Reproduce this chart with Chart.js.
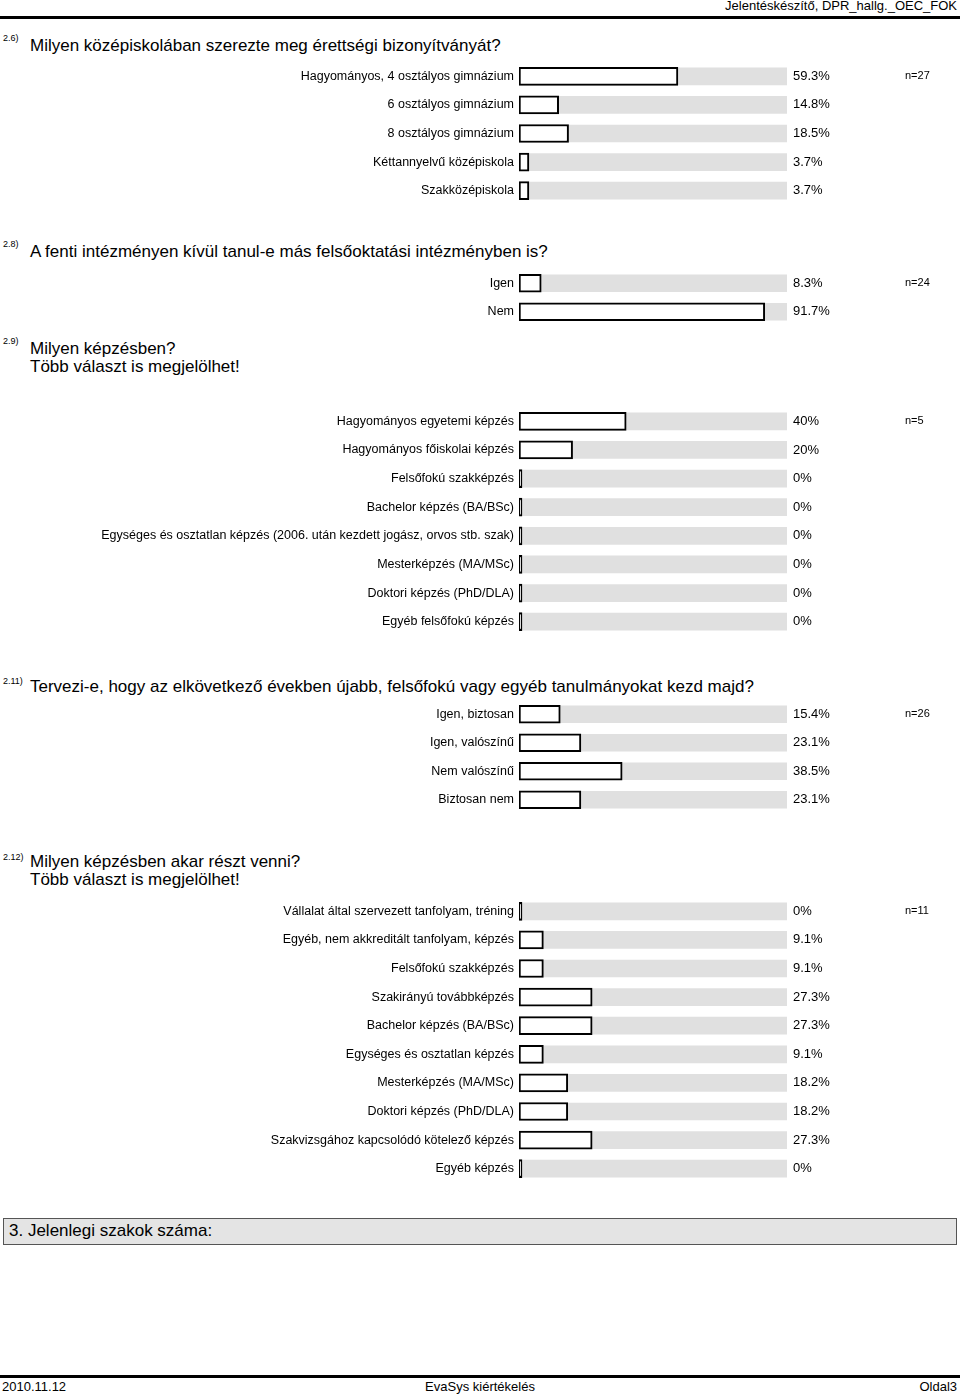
<!DOCTYPE html>
<html>
<head>
<meta charset="utf-8">
<script src="https://cdn.jsdelivr.net/npm/chart.js@4"></script>
<style>
body { margin: 0; width: 960px; height: 1395px; position: relative; background: #fff; font-family: "Liberation Sans", Arial, sans-serif; color: #000; }
.abs { position: absolute; white-space: nowrap; }
.num { font-size: 9px; left: 3px; }
.q { font-size: 17px; left: 30px; }
.hr { position: absolute; left: 0; width: 960px; background: #000; }
canvas { position: absolute; left: 0; }
</style>
</head>
<body>

<div class="abs" style="right:3px;top:-2px;font-size:13px">Jelentéskészítő, DPR_hallg._OEC_FOK</div>
<div class="hr" style="top:16px;height:3px"></div>

<div class="abs num" style="top:33px">2.6)</div>
<div class="abs q" style="top:36px">Milyen középiskolában szerezte meg érettségi bizonyítványát?</div>
<canvas id="q26" width="960" height="143" style="top:62px"></canvas>

<div class="abs num" style="top:239px">2.8)</div>
<div class="abs q" style="top:242px">A fenti intézményen kívül tanul-e más felsőoktatási intézményben is?</div>
<canvas id="q28" width="960" height="57" style="top:269px"></canvas>

<div class="abs num" style="top:336px">2.9)</div>
<div class="abs q" style="top:339px">Milyen képzésben?</div>
<div class="abs q" style="top:357px">Több választ is megjelölhet!</div>
<canvas id="q29" width="960" height="229" style="top:407px"></canvas>

<div class="abs num" style="top:676px">2.11)</div>
<div class="abs q" style="top:677px">Tervezi-e, hogy az elkövetkező években újabb, felsőfokú vagy egyéb tanulmányokat kezd majd?</div>
<canvas id="q211" width="960" height="114" style="top:700px"></canvas>

<div class="abs num" style="top:852px">2.12)</div>
<div class="abs q" style="top:852px">Milyen képzésben akar részt venni?</div>
<div class="abs q" style="top:870px">Több választ is megjelölhet!</div>
<canvas id="q212" width="960" height="286" style="top:897px"></canvas>

<div class="abs" style="left:3px;top:1218px;width:952px;height:25px;background:#e4e4e4;border:1px solid #555"></div>
<div class="abs" style="left:9px;top:1221px;font-size:17px">3. Jelenlegi szakok száma:</div>

<div class="hr" style="top:1375px;height:3px"></div>
<div class="abs" style="left:2px;top:1379px;font-size:13px">2010.11.12</div>
<div class="abs" style="left:0;width:960px;text-align:center;top:1379px;font-size:13px">EvaSys kiértékelés</div>
<div class="abs" style="right:3px;top:1379px;font-size:13px">Oldal3</div>

<script>
// 2.6
const q26Labels = ['Hagyományos, 4 osztályos gimnázium', '6 osztályos gimnázium', '8 osztályos gimnázium', 'Kéttannyelvű középiskola', 'Szakközépiskola'];
const q26Values = [59.3, 14.8, 18.5, 3.7, 3.7];
const q26N = 27;

// 2.8
const q28Labels = ['Igen', 'Nem'];
const q28Values = [8.3, 91.7];
const q28N = 24;

// 2.9
const q29Labels = ['Hagyományos egyetemi képzés', 'Hagyományos főiskolai képzés', 'Felsőfokú szakképzés', 'Bachelor képzés (BA/BSc)',
    'Egységes és osztatlan képzés (2006. után kezdett jogász, orvos stb. szak)', 'Mesterképzés (MA/MSc)', 'Doktori képzés (PhD/DLA)', 'Egyéb felsőfokú képzés'];
const q29Values = [40, 20, 0, 0, 0, 0, 0, 0];
const q29N = 5;

// 2.11
const q211Labels = ['Igen, biztosan', 'Igen, valószínű', 'Nem valószínű', 'Biztosan nem'];
const q211Values = [15.4, 23.1, 38.5, 23.1];
const q211N = 26;

// 2.12
const q212Labels = ['Vállalat által szervezett tanfolyam, tréning', 'Egyéb, nem akkreditált tanfolyam, képzés', 'Felsőfokú szakképzés',
    'Szakirányú továbbképzés', 'Bachelor képzés (BA/BSc)', 'Egységes és osztatlan képzés', 'Mesterképzés (MA/MSc)',
    'Doktori képzés (PhD/DLA)', 'Szakvizsgához kapcsolódó kötelező képzés', 'Egyéb képzés'];
const q212Values = [0, 9.1, 9.1, 27.3, 27.3, 9.1, 18.2, 18.2, 27.3, 0];
const q212N = 11;

const FONT = '"Liberation Sans", Arial, sans-serif';

// percent text after the track, n= on the first row
const valueText = {
    id: 'valueText',
    afterDatasetsDraw(chart, args, opts) {
        const ctx = chart.ctx;
        const meta = chart.getDatasetMeta(1);
        const values = chart.data.datasets[1].data;
        ctx.save();
        ctx.fillStyle = '#000';
        ctx.textBaseline = 'middle';
        ctx.textAlign = 'left';
        meta.data.forEach((bar, i) => {
            ctx.font = '13px ' + FONT;
            ctx.fillText(values[i] + '%', chart.chartArea.right + 6, bar.y);
            if (i === 0) {
                ctx.font = '11px ' + FONT;
                ctx.fillText('n=' + opts.n, 905, bar.y);
            }
        });
        ctx.restore();
    }
};

function makeChart(id, labels, values, n) {
    new Chart(document.getElementById(id), {
        type: 'bar',
        data: {
            labels: labels,
            datasets: [{
                data: labels.map(() => 100),
                backgroundColor: '#e0e0e0',
                borderWidth: 0,
                barThickness: 17,
                grouped: false,
                order: 2
            }, {
                data: values,
                backgroundColor: '#fff',
                borderColor: '#000',
                borderWidth: 2,
                borderSkipped: false,
                barThickness: 18,
                minBarLength: 3,
                grouped: false,
                order: 1
            }]
        },
        options: {
            indexAxis: 'y',
            responsive: false,
            animation: false,
            layout: { padding: { left: 0, right: 173, top: 0, bottom: 0 } },
            plugins: {
                legend: { display: false },
                tooltip: { enabled: false },
                valueText: { n: n }
            },
            scales: {
                x: { display: false, min: 0, max: 100 },
                y: {
                    grid: { display: false, drawTicks: false },
                    border: { display: false },
                    ticks: { color: '#000', font: { size: 12.5, family: FONT }, padding: 5, autoSkip: false },
                    afterFit: s => {
                        s.width = 519;
                        // rows fill the whole canvas height
                        s.paddingTop = 0;
                        s.paddingBottom = 0;
                    }
                }
            }
        },
        plugins: [valueText]
    });
}

makeChart('q26', q26Labels, q26Values, q26N);
makeChart('q28', q28Labels, q28Values, q28N);
makeChart('q29', q29Labels, q29Values, q29N);
makeChart('q211', q211Labels, q211Values, q211N);
makeChart('q212', q212Labels, q212Values, q212N);
</script>
</body>
</html>
